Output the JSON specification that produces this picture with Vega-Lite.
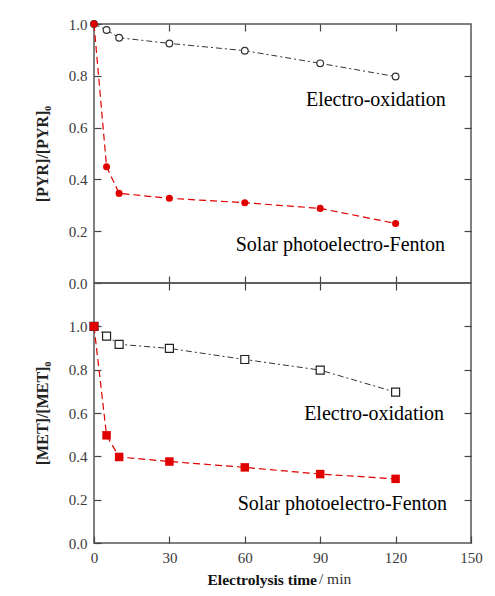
{
  "$schema": "https://vega.github.io/schema/vega-lite/v6.json",
  "padding": {"left": 33, "top": 16, "right": 5, "bottom": 5},
  "spacing": 0,
  "bounds": "flush",
  "config": {
    "font": "Liberation Serif, Times New Roman, DejaVu Serif, serif",
    "view": {"stroke": "#555", "strokeWidth": 1.5},
    "axis": {
      "domain": false, "grid": false,
      "tickColor": "#444", "tickSize": -7, "tickWidth": 1.2,
      "labelFont": "Liberation Serif, Times New Roman, DejaVu Serif, serif", "labelFontSize": 15, "labelColor": "#3a3a3a",
      "labelPadding": 14, "labelFlush": false,
      "titleFont": "Liberation Serif, Times New Roman, DejaVu Serif, serif"
    }
  },
  "datasets": {
    "pts": [
      {"panel": "PYR", "series": "EO", "t": 0, "c": 1.0},
      {"panel": "PYR", "series": "EO", "t": 5, "c": 0.977},
      {"panel": "PYR", "series": "EO", "t": 10, "c": 0.947},
      {"panel": "PYR", "series": "EO", "t": 30, "c": 0.925},
      {"panel": "PYR", "series": "EO", "t": 60, "c": 0.897},
      {"panel": "PYR", "series": "EO", "t": 90, "c": 0.848},
      {"panel": "PYR", "series": "EO", "t": 120, "c": 0.797},
      {"panel": "PYR", "series": "SPEF", "t": 0, "c": 1.0},
      {"panel": "PYR", "series": "SPEF", "t": 5, "c": 0.449},
      {"panel": "PYR", "series": "SPEF", "t": 10, "c": 0.346},
      {"panel": "PYR", "series": "SPEF", "t": 30, "c": 0.327},
      {"panel": "PYR", "series": "SPEF", "t": 60, "c": 0.31},
      {"panel": "PYR", "series": "SPEF", "t": 90, "c": 0.288},
      {"panel": "PYR", "series": "SPEF", "t": 120, "c": 0.23},
      {"panel": "MET", "series": "EO", "t": 0, "c": 1.0},
      {"panel": "MET", "series": "EO", "t": 5, "c": 0.955},
      {"panel": "MET", "series": "EO", "t": 10, "c": 0.917},
      {"panel": "MET", "series": "EO", "t": 30, "c": 0.898},
      {"panel": "MET", "series": "EO", "t": 60, "c": 0.847},
      {"panel": "MET", "series": "EO", "t": 90, "c": 0.798},
      {"panel": "MET", "series": "EO", "t": 120, "c": 0.696},
      {"panel": "MET", "series": "SPEF", "t": 0, "c": 1.0},
      {"panel": "MET", "series": "SPEF", "t": 5, "c": 0.497},
      {"panel": "MET", "series": "SPEF", "t": 10, "c": 0.397},
      {"panel": "MET", "series": "SPEF", "t": 30, "c": 0.376},
      {"panel": "MET", "series": "SPEF", "t": 60, "c": 0.349},
      {"panel": "MET", "series": "SPEF", "t": 90, "c": 0.318},
      {"panel": "MET", "series": "SPEF", "t": 120, "c": 0.296}
    ],
    "notes": [
      {"panel": "PYR", "label": "Electro-oxidation", "t": 140, "c": 0.683},
      {"panel": "PYR", "label": "Solar photoelectro-Fenton", "t": 139.7, "c": 0.124},
      {"panel": "MET", "label": "Electro-oxidation", "t": 139.3, "c": 0.569},
      {"panel": "MET", "label": "Solar photoelectro-Fenton", "t": 140.5, "c": 0.153}
    ],
    "unit": [
      {"label": "/ min", "t": 89.5, "c": -0.19}
    ]
  },
  "vconcat": [
    {
      "width": 377, "height": 259,
      "resolve": {"axis": {"x": "independent", "y": "independent"}},
      "layer": [
        {
          "data": {"name": "pts"},
          "transform": [{"filter": "datum.panel === 'PYR' && datum.series === 'EO'"}],
          "mark": {"type": "line", "color": "#333", "strokeWidth": 1, "strokeDash": [6, 3, 2, 3]},
          "encoding": {
            "x": {"field": "t", "type": "quantitative", "scale": {"domain": [0, 150], "nice": false},
                  "axis": {"orient": "bottom", "values": [30, 60, 90, 120], "labels": false, "title": null}},
            "y": {"field": "c", "type": "quantitative", "scale": {"domain": [0, 1], "nice": false},
                  "axis": {"orient": "left", "values": [0, 0.2, 0.4, 0.6, 0.8, 1.0], "format": ".1f",
                           "title": "[PYR]/[PYR]₀", "titleFontSize": 16, "titleFontWeight": "bold", "titleColor": "#222", "titlePadding": 18}}
          }
        },
        {
          "data": {"name": "pts"},
          "transform": [{"filter": "datum.panel === 'PYR' && datum.series === 'SPEF'"}],
          "mark": {"type": "line", "color": "#e00000", "strokeWidth": 1.2, "strokeDash": [7, 4]},
          "encoding": {
            "x": {"field": "t", "type": "quantitative", "scale": {"domain": [0, 150], "nice": false},
                  "axis": {"orient": "top", "values": [30, 60, 90, 120], "labels": false, "title": null}},
            "y": {"field": "c", "type": "quantitative", "scale": {"domain": [0, 1], "nice": false},
                  "axis": {"orient": "right", "values": [0.2, 0.4, 0.6, 0.8], "labels": false, "title": null}}
          }
        },
        {
          "data": {"name": "pts"},
          "transform": [{"filter": "datum.panel === 'PYR' && datum.series === 'EO'"}],
          "mark": {"type": "point", "shape": "circle", "filled": false, "fill": "white", "stroke": "#333", "strokeWidth": 1.2, "size": 45, "opacity": 1},
          "encoding": {
            "x": {"field": "t", "type": "quantitative", "axis": null},
            "y": {"field": "c", "type": "quantitative", "axis": null}
          }
        },
        {
          "data": {"name": "pts"},
          "transform": [{"filter": "datum.panel === 'PYR' && datum.series === 'SPEF'"}],
          "mark": {"type": "point", "shape": "circle", "filled": true, "color": "#e00000", "size": 50, "opacity": 1},
          "encoding": {
            "x": {"field": "t", "type": "quantitative", "axis": null},
            "y": {"field": "c", "type": "quantitative", "axis": null}
          }
        },
        {
          "data": {"name": "notes"},
          "transform": [{"filter": "datum.panel === 'PYR'"}],
          "mark": {"type": "text", "align": "right", "baseline": "alphabetic", "fontSize": 20, "color": "#000", "font": "Liberation Serif, Times New Roman, DejaVu Serif, serif"},
          "encoding": {
            "x": {"field": "t", "type": "quantitative", "axis": null},
            "y": {"field": "c", "type": "quantitative", "axis": null},
            "text": {"field": "label"}
          }
        }
      ]
    },
    {
      "width": 377, "height": 260,
      "resolve": {"axis": {"x": "independent", "y": "independent"}},
      "layer": [
        {
          "data": {"name": "pts"},
          "transform": [{"filter": "datum.panel === 'MET' && datum.series === 'EO'"}],
          "mark": {"type": "line", "color": "#333", "strokeWidth": 1, "strokeDash": [6, 3, 2, 3]},
          "encoding": {
            "x": {"field": "t", "type": "quantitative", "scale": {"domain": [0, 150], "nice": false},
                  "axis": {"orient": "bottom", "values": [0, 30, 60, 90, 120, 150],
                           "title": "Electrolysis time", "titleFontSize": 15.5, "titleFontWeight": "bold", "titleColor": "#111",
                           "titleAnchor": "start", "titleAlign": "left", "titleBaseline": "alphabetic", "titleX": 113, "titleY": 41}},
            "y": {"field": "c", "type": "quantitative", "scale": {"domain": [0, 1.2], "nice": false},
                  "axis": {"orient": "left", "values": [0, 0.2, 0.4, 0.6, 0.8, 1.0], "format": ".1f",
                           "title": "[MET]/[MET]₀", "titleFontSize": 16, "titleFontWeight": "bold", "titleColor": "#222", "titlePadding": 18}}
          }
        },
        {
          "data": {"name": "pts"},
          "transform": [{"filter": "datum.panel === 'MET' && datum.series === 'SPEF'"}],
          "mark": {"type": "line", "color": "#e00000", "strokeWidth": 1.2, "strokeDash": [7, 4]},
          "encoding": {
            "x": {"field": "t", "type": "quantitative", "scale": {"domain": [0, 150], "nice": false},
                  "axis": {"orient": "top", "values": [30, 60, 90, 120], "labels": false, "title": null}},
            "y": {"field": "c", "type": "quantitative", "scale": {"domain": [0, 1.2], "nice": false},
                  "axis": {"orient": "right", "values": [0.2, 0.4, 0.6, 0.8, 1.0], "labels": false, "title": null}}
          }
        },
        {
          "data": {"name": "pts"},
          "transform": [{"filter": "datum.panel === 'MET' && datum.series === 'EO'"}],
          "mark": {"type": "point", "shape": "square", "filled": false, "fill": "white", "stroke": "#222", "strokeWidth": 1.2, "size": 64, "opacity": 1},
          "encoding": {
            "x": {"field": "t", "type": "quantitative", "axis": null},
            "y": {"field": "c", "type": "quantitative", "axis": null}
          }
        },
        {
          "data": {"name": "pts"},
          "transform": [{"filter": "datum.panel === 'MET' && datum.series === 'SPEF'"}],
          "mark": {"type": "point", "shape": "square", "filled": true, "color": "#e00000", "size": 72, "opacity": 1},
          "encoding": {
            "x": {"field": "t", "type": "quantitative", "axis": null},
            "y": {"field": "c", "type": "quantitative", "axis": null}
          }
        },
        {
          "data": {"name": "notes"},
          "transform": [{"filter": "datum.panel === 'MET'"}],
          "mark": {"type": "text", "align": "right", "baseline": "alphabetic", "fontSize": 20, "color": "#000", "font": "Liberation Serif, Times New Roman, DejaVu Serif, serif"},
          "encoding": {
            "x": {"field": "t", "type": "quantitative", "axis": null},
            "y": {"field": "c", "type": "quantitative", "axis": null},
            "text": {"field": "label"}
          }
        },
        {
          "data": {"name": "unit"},
          "mark": {"type": "text", "align": "left", "baseline": "alphabetic", "fontSize": 15.5, "color": "#333", "font": "Liberation Serif, Times New Roman, DejaVu Serif, serif", "clip": false},
          "encoding": {
            "x": {"field": "t", "type": "quantitative", "axis": null},
            "y": {"field": "c", "type": "quantitative", "axis": null},
            "text": {"field": "label"}
          }
        }
      ]
    }
  ]
}
